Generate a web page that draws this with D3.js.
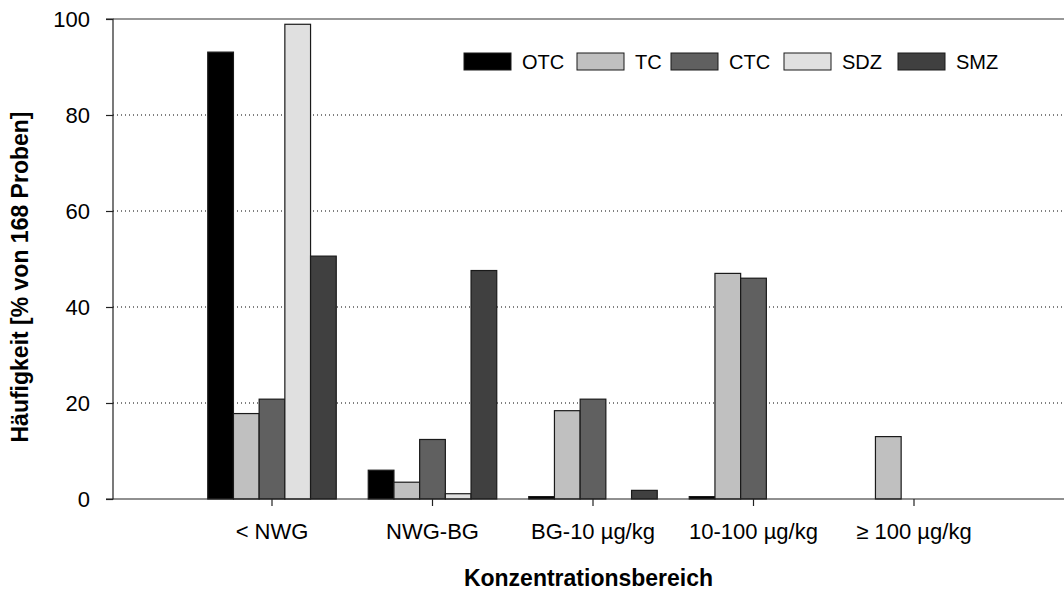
<!DOCTYPE html>
<html>
<head>
<meta charset="utf-8">
<script src="https://cdn.jsdelivr.net/npm/d3@7"></script>
<style>
  html, body { margin: 0; padding: 0; background: #fff; }
  svg { display: block; font-family: "Liberation Sans", Arial, sans-serif; }
</style>
</head>
<body>
<svg id="chart" width="1064" height="590"></svg>
<script>
// Konzentrationsbereiche (x-Kategorien)
const categories = ["< NWG", "NWG-BG", "BG-10 µg/kg", "10-100 µg/kg", "≥ 100 µg/kg"];
// Wirkstoffe (Reihen)
const seriesNames = ["OTC", "TC", "CTC", "SDZ", "SMZ"];
const seriesColors = ["#000000", "#c0c0c0", "#606060", "#e0e0e0", "#404040"];
// Häufigkeit in % von 168 Proben je Reihe und Kategorie
const OTC = [93.1, 6.0, 0.5, 0.5, 0];
const TC  = [17.8, 3.5, 18.4, 47.0, 13.0];
const CTC = [20.8, 12.4, 20.8, 46.0, 0];
const SDZ = [98.9, 1.1, 0, 0, 0];
const SMZ = [50.6, 47.6, 1.8, 0, 0];
const yTicks = [0, 20, 40, 60, 80, 100];

const values = [OTC, TC, CTC, SDZ, SMZ];

const svg = d3.select("#chart");
const plotLeft = 113, plotRight = 1064, plotTop = 19, plotBottom = 499;
const labelSize = 22, titleSize = 23, legendSize = 20;

const y = d3.scaleLinear().domain([0, 100]).range([plotBottom, plotTop]);

// category bands: one band per concentration range, groups centred on the ticks
const step = 160.5;
const x = d3.scaleBand().domain(categories)
  .range([272 - step / 2, 272 - step / 2 + step * categories.length])
  .paddingInner(0).paddingOuter(0);
const xs = d3.scaleBand().domain(seriesNames)
  .range([(step - 128.5) / 2, (step + 128.5) / 2]).padding(0);

// dotted gridlines
svg.append("g").selectAll("line")
  .data(yTicks.filter(d => d > 0 && d < 100))
  .join("line")
  .attr("x1", plotLeft).attr("x2", plotRight)
  .attr("y1", d => y(d)).attr("y2", d => y(d))
  .attr("stroke", "#000").attr("stroke-width", 1)
  .attr("stroke-dasharray", "1,3");

// top frame line
svg.append("line")
  .attr("x1", plotLeft).attr("x2", plotRight)
  .attr("y1", y(100)).attr("y2", y(100))
  .attr("stroke", "#333").attr("stroke-width", 1.2);

// bars
const groups = svg.append("g").selectAll("g")
  .data(seriesNames)
  .join("g")
  .attr("fill", (d, i) => seriesColors[i]);

groups.each(function(name, si) {
  d3.select(this).selectAll("rect")
    .data(values[si].map((v, ci) => ({ v, c: categories[ci] })).filter(d => d.v > 0))
    .join("rect")
    .attr("x", d => x(d.c) + xs(name))
    .attr("width", xs.bandwidth())
    .attr("y", d => y(d.v))
    .attr("height", d => y(0) - y(d.v))
    .attr("stroke", "#1a1a1a")
    .attr("stroke-width", 1.2);
});

// y axis
const yAxis = d3.axisLeft(y).tickValues(yTicks).tickSize(7).tickPadding(16).tickFormat(d3.format("d"));
const gy = svg.append("g").attr("transform", `translate(${plotLeft},0)`).call(yAxis);
gy.select(".domain").attr("stroke", "#222").attr("stroke-width", 1.2).attr("d", `M-7,${plotTop}H0V${plotBottom}H-7`);
gy.selectAll(".tick line").attr("stroke", "#222").attr("stroke-width", 1.2);
gy.selectAll(".tick text").attr("font-size", labelSize).attr("fill", "#000")
  .attr("font-family", "Liberation Sans, Arial, sans-serif");

// x axis (baseline with ticks at group centres)
svg.append("line")
  .attr("x1", plotLeft).attr("x2", plotRight)
  .attr("y1", y(0)).attr("y2", y(0))
  .attr("stroke", "#222").attr("stroke-width", 1.2);
svg.append("g").selectAll("line")
  .data(categories).join("line")
  .attr("x1", d => x(d) + x.bandwidth() / 2).attr("x2", d => x(d) + x.bandwidth() / 2)
  .attr("y1", y(0)).attr("y2", y(0) + 7)
  .attr("stroke", "#222").attr("stroke-width", 1.2);
svg.append("g").selectAll("text")
  .data(categories).join("text")
  .attr("x", d => x(d) + x.bandwidth() / 2)
  .attr("y", 539)
  .attr("text-anchor", "middle")
  .attr("font-size", labelSize)
  .text(d => d);

// axis titles
svg.append("text")
  .attr("x", (plotLeft + plotRight) / 2)
  .attr("y", 586)
  .attr("text-anchor", "middle")
  .attr("font-size", titleSize).attr("font-weight", "bold")
  .text("Konzentrationsbereich");
svg.append("text")
  .attr("transform", `translate(28,${(plotTop + plotBottom) / 2 + 18}) rotate(-90)`)
  .attr("text-anchor", "middle")
  .attr("font-size", titleSize).attr("font-weight", "bold")
  .text("Häufigkeit [% von 168 Proben]");

// legend
const legendX = [464, 577, 671, 784, 898];
const lg = svg.append("g").selectAll("g")
  .data(seriesNames).join("g")
  .attr("transform", (d, i) => `translate(${legendX[i]},53)`);
lg.append("rect")
  .attr("width", 47).attr("height", 17)
  .attr("fill", (d, i) => seriesColors[i])
  .attr("stroke", "#1a1a1a").attr("stroke-width", 1);
lg.append("text")
  .attr("x", 58).attr("y", 16)
  .attr("font-size", legendSize)
  .text(d => d);
</script>
</body>
</html>
